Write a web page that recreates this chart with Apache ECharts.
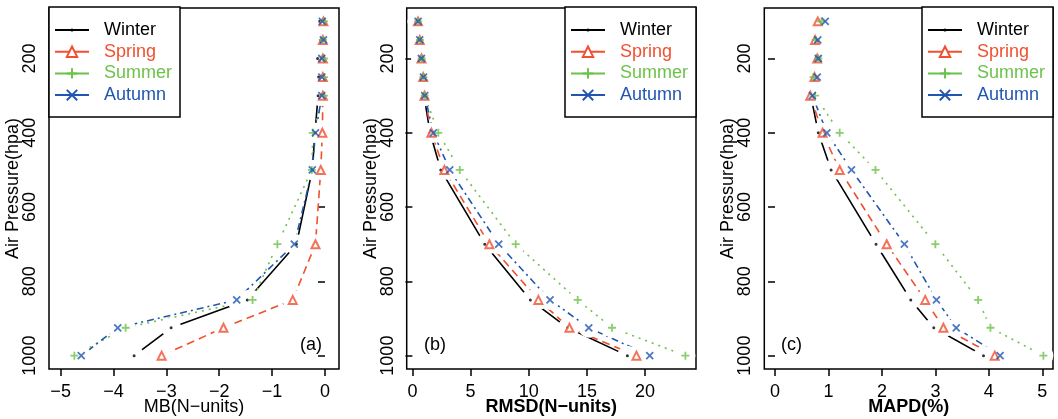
<!DOCTYPE html>
<html>
<head>
<meta charset="utf-8">
<script src="https://cdn.jsdelivr.net/npm/echarts@6/dist/echarts.min.js"></script>
<style>html,body{margin:0;padding:0;background:#fff;}#chart{width:1058px;height:419px;}</style>
</head>
<body>
<div id="chart"></div>
<script>
// ---- data ----
const levels = [100, 150, 200, 250, 300, 400, 500, 700, 850, 925, 1000];
const seasons = ['Winter', 'Spring', 'Summer', 'Autumn'];
const pressureTicks = [200, 400, 600, 800, 1000];

const mbWinter = [-0.10, -0.08, -0.14, -0.12, -0.13, -0.19, -0.24, -0.54, -1.47, -2.91, -3.61];
const mbSpring = [-0.03, -0.04, -0.04, -0.04, -0.04, -0.05, -0.08, -0.18, -0.61, -1.92, -3.09];
const mbSummer = [-0.02, -0.04, -0.02, -0.02, -0.02, -0.23, -0.25, -0.90, -1.37, -3.77, -4.74];
const mbAutumn = [-0.05, -0.03, -0.06, -0.06, -0.06, -0.18, -0.24, -0.58, -1.67, -3.92, -4.61];

const rmWinter = [0.43, 0.60, 0.75, 0.89, 1.00, 1.52, 2.44, 6.22, 10.14, 13.35, 18.48];
const rmSpring = [0.48, 0.63, 0.78, 0.93, 1.04, 1.63, 2.75, 6.62, 10.83, 13.50, 19.26];
const rmSummer = [0.50, 0.65, 0.80, 0.95, 1.06, 2.23, 4.07, 8.88, 14.21, 17.16, 23.47];
const rmAutumn = [0.49, 0.63, 0.77, 0.95, 1.06, 1.80, 3.21, 7.42, 11.83, 15.16, 20.40];

const mpWinter = [0.80, 0.76, 0.78, 0.74, 0.67, 0.81, 1.05, 1.89, 2.54, 2.97, 3.90];
const mpSpring = [0.80, 0.75, 0.79, 0.74, 0.66, 0.89, 1.21, 2.09, 2.81, 3.15, 4.11];
const mpSummer = [0.87, 0.76, 0.81, 0.72, 0.75, 1.21, 1.88, 3.00, 3.80, 4.03, 5.02];
const mpAutumn = [0.94, 0.80, 0.81, 0.79, 0.70, 0.97, 1.43, 2.42, 3.02, 3.39, 4.21];

const mbTicks = [-5, -4, -3, -2, -1, 0];
const rmTicks = [0, 5, 10, 15, 20];
const mpTicks = [0, 1, 2, 3, 4, 5];

// ---- styles ----
const FONT = 'Liberation Sans, Arial, Helvetica, sans-serif';
const colors = { Winter: '#000000', Spring: '#F0502F', Summer: '#6CC24A', Autumn: '#2156B0' };
const dashes = { Winter: 'solid', Spring: [8, 5], Summer: [2, 5], Autumn: [7, 4, 2, 4] };
const symbols = {
  Winter: 'path://M0,0h0.01M10,10h0.01M3.5,5a1.5,1.5 0 1,0 3,0a1.5,1.5 0 1,0 -3,0z',
  Spring: 'emptyTriangle',
  Summer: 'path://M5,0V10M0,5H10',
  Autumn: 'path://M0,0L10,10M10,0L0,10'
};
const symSizes = { Winter: 10, Spring: 8, Summer: 8, Autumn: 7 };

const panels = [
  { data: { Winter: mbWinter, Spring: mbSpring, Summer: mbSummer, Autumn: mbAutumn },
    ticks: mbTicks, min: -5.22, max: 0.265, left: 49, width: 290, title: 'MB(N\u2212units)', bold: false,
    label: '(a)', labelX: 300, legendLeft: 49 },
  { data: { Winter: rmWinter, Spring: rmSpring, Summer: rmSummer, Autumn: rmAutumn },
    ticks: rmTicks, min: -0.49, max: 24.38, left: 406.7, width: 289.3, title: 'RMSD(N\u2212units)', bold: true,
    label: '(b)', labelX: 424, legendLeft: 565 },
  { data: { Winter: mpWinter, Spring: mpSpring, Summer: mpSummer, Autumn: mpAutumn },
    ticks: mpTicks, min: -0.2, max: 5.2, left: 764.3, width: 288.7, title: 'MAPD(%)', bold: true,
    label: '(c)', labelX: 781, legendLeft: 922 }
];

const fmt = v => (v < 0 ? '\u2212' + Math.abs(v) : String(v));

const grids = [], xAxes = [], yAxes = [], legends = [], graphics = [];
const lineSeries = [], maskSeries = [], markSeries = [];

panels.forEach((p, i) => {
  grids.push({ left: p.left, top: 8, width: p.width, height: 361, show: true,
    borderColor: '#000', borderWidth: 1.5, backgroundColor: 'transparent', outerBoundsMode: 'none' });
  xAxes.push({ type: 'value', gridIndex: i, min: p.min, max: p.max,
    axisLine: { show: false }, splitLine: { show: false },
    axisTick: { show: true, customValues: p.ticks, length: 7, lineStyle: { color: '#000', width: 1.5 } },
    axisLabel: { customValues: p.ticks, formatter: fmt, color: '#000', fontFamily: FONT, fontSize: 18, margin: 14 },
    name: p.title, nameLocation: 'middle', nameGap: 29, nameMoveOverlap: false,
    nameTextStyle: { color: '#000', fontFamily: FONT, fontSize: 18, fontWeight: p.bold ? 'bold' : 'normal' } });
  yAxes.push({ type: 'value', gridIndex: i, inverse: true, min: 64, max: 1036,
    axisLine: { show: false }, splitLine: { show: false },
    axisTick: { show: true, customValues: pressureTicks, length: 7, lineStyle: { color: '#000', width: 1.5 } },
    axisLabel: { customValues: pressureTicks, formatter: v => String(v), rotate: 90, color: '#000', fontFamily: FONT, fontSize: 18, margin: 10 },
    name: 'Air Pressure(hpa)', nameLocation: 'middle', nameGap: 27, nameRotate: 90, nameMoveOverlap: false,
    nameTextStyle: { color: '#000', fontFamily: FONT, fontSize: 18 } });
  legends.push({ orient: 'vertical', left: p.legendLeft, top: 7, zlevel: 3,
    padding: [13, 8, 12, 5], itemGap: 1.7, itemWidth: 34, itemHeight: 13,
    borderColor: '#000', borderWidth: 1.5, backgroundColor: '#fff', z: 10,
    lineStyle: { type: 'solid', width: 2 },
    data: seasons.map(s => ({ name: s, textStyle: { color: colors[s] } })),
    textStyle: { fontFamily: FONT, fontSize: 18, lineHeight: 20, padding: [0, 0, 0, 10] } });
  graphics.push({ type: 'text', left: p.labelX, top: 336, z: 20, zlevel: 3,
    style: { text: p.label, font: '18px ' + FONT, fill: '#000' } });

  seasons.forEach(s => {
    const pts = () => p.data[s].map((v, k) => [v, levels[k]]);
    const symStyle = s === 'Winter'
      ? { color: colors[s], borderWidth: 0 }
      : (s === 'Spring'
        ? { color: colors[s], borderColor: colors[s], borderWidth: 1.6 }
        : { color: colors[s], borderColor: colors[s], borderWidth: 1.8 });
    lineSeries.push({ type: 'line', name: s, xAxisIndex: i, yAxisIndex: i, data: pts(), z: 1, zlevel: 0,
      symbol: symbols[s], symbolSize: symSizes[s], showSymbol: true, animation: false, silent: true,
      lineStyle: { color: colors[s], width: 1.6, type: dashes[s] }, itemStyle: symStyle });
    maskSeries.push({ type: 'scatter', name: 'mask' + i + s, xAxisIndex: i, yAxisIndex: i, data: pts(), z: 2, zlevel: 1,
      symbol: 'circle', symbolSize: 20, itemStyle: { color: '#ffffff', opacity: 1 }, silent: true, animation: false });
    markSeries.push({ type: 'scatter', name: s, xAxisIndex: i, yAxisIndex: i, data: pts(), z: 3, zlevel: 2,
      symbol: symbols[s], symbolSize: symSizes[s], itemStyle: symStyle, silent: true, animation: false });
  });
});

const chart = echarts.init(document.getElementById('chart'), null, { renderer: 'canvas' });
chart.setOption({
  animation: false,
  backgroundColor: '#fff',
  grid: grids, xAxis: xAxes, yAxis: yAxes, legend: legends, graphic: graphics,
  series: lineSeries.concat(maskSeries, markSeries)
});
</script>
</body>
</html>
